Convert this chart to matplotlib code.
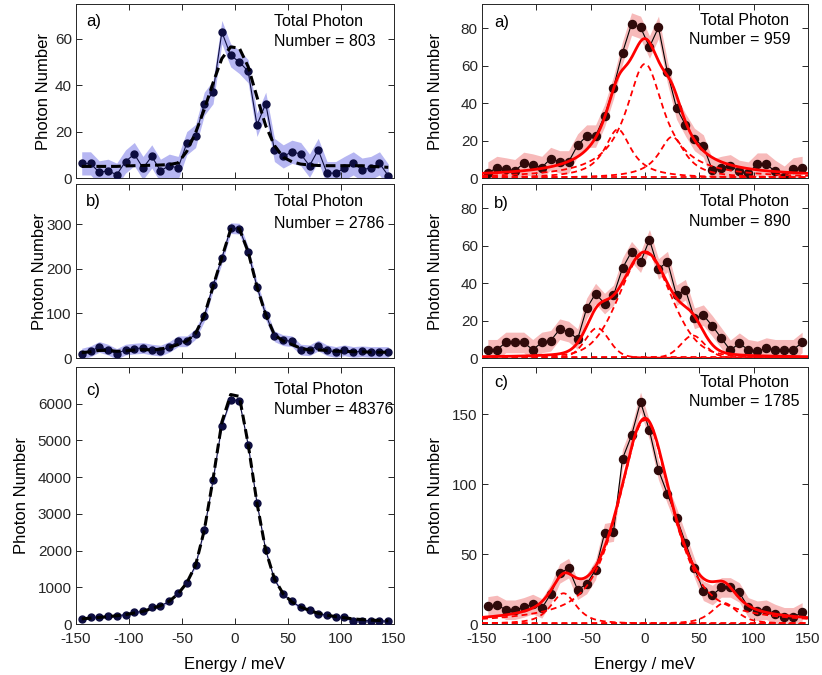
import numpy as np
import matplotlib
matplotlib.use("Agg")
import matplotlib.pyplot as plt

plt.rcParams['font.family'] = ['Liberation Sans', 'DejaVu Sans']
plt.rcParams['text.color'] = '#262626'
plt.rcParams['axes.edgecolor'] = '#262626'
plt.rcParams['xtick.color'] = '#262626'
plt.rcParams['ytick.color'] = '#262626'
plt.rcParams['axes.unicode_minus'] = False

# energy bins (meV), shared by every panel
energy = [-144.6, -136.3, -128.1, -119.8, -111.6, -103.3, -95.0, -86.8, -78.5,
          -70.3, -62.0, -53.7, -45.5, -37.2, -29.0, -20.7, -12.4, -4.1,
          4.1, 12.4, 20.7, 29.0, 37.2, 45.5, 53.7, 62.0, 70.3, 78.5,
          86.8, 95.0, 103.3, 111.6, 119.8, 128.1, 136.3, 144.6]

# left column: counts and fitted profile at each bin
left_a_counts = [6.3, 6.3, 2.4, 3.1, 1.4, 7.1, 10.3, 4.3, 9.3, 3.1, 5.3, 4.3,
                 15.0, 18.1, 32.0, 37.0, 62.9, 52.9, 50.0, 46.0, 22.9, 32.0,
                 12.1, 9.3, 11.3, 10.3, 5.3, 12.1, 2.1, 2.1, 4.3, 6.3, 3.6,
                 4.3, 6.3, 1.0]
left_a_fit = [5.0, 5.0, 5.0, 5.0, 5.0, 5.2, 5.3, 5.4, 5.5, 5.6, 5.8, 6.5,
              11.5, 19.5, 29.5, 41.0, 51.5, 56.5, 56.0, 48.0, 35.0, 22.5,
              14.0, 9.0, 7.0, 6.0, 5.6, 5.4, 5.3, 5.3, 5.3, 5.3, 5.3, 5.0,
              4.8, 4.6]
left_b_counts = [9.8, 15.0, 24.8, 18.8, 9.0, 18.8, 21.0, 22.5, 18.8, 16.5,
                 24.8, 37.5, 37.5, 54.0, 93.8, 162.8, 223.5, 291.0, 290.0,
                 237.8, 159.8, 97.5, 48.8, 39.8, 37.5, 18.8, 17.3, 27.8, 17.3,
                 13.5, 17.3, 13.5, 15.0, 13.5, 13.5, 13.5]
left_b_fit = [12, 14, 17, 17, 15, 16, 18, 19, 18, 20, 24, 30, 38, 55, 95, 160,
              225, 288, 290, 238, 160, 97, 52, 38, 30, 22, 18, 18, 17, 15, 15,
              14, 14, 13, 13, 13]
left_c_counts = [135, 180, 180, 207, 225, 252, 315, 342, 450, 495, 613, 856,
                 1126, 1595, 2550, 3919, 5405, 6108, 6081, 4883, 3306, 2009,
                 1216, 811, 613, 450, 387, 270, 243, 180, 180, 90, 90, 90, 90,
                 72]
left_c_fit = [140, 160, 180, 200, 225, 255, 300, 345, 420, 500, 620, 820, 1120,
              1600, 2550, 3950, 5500, 6250, 6200, 4900, 3300, 2000, 1230, 820,
              600, 460, 370, 290, 240, 200, 170, 140, 120, 105, 95, 85]
left_err = [5, 12, 40]
left_totals = [803, 2786, 48376]

# right column: counts and fitted peak components
right_a_counts = [2.6, 5.6, 4.8, 3.9, 7.8, 6.9, 5.6, 10.4, 8.6, 8.6, 17.6, 22.4,
                  22.4, 33.3, 48.3, 67.0, 82.3, 80.5, 70.0, 80.5, 56.4, 37.4,
                  28.5, 20.6, 17.1, 4.2, 5.6, 6.5, 3.5, 2.6, 7.4, 7.4, 3.5, 0.4,
                  4.8, 5.6]
right_b_counts = [4.4, 4.4, 8.3, 8.3, 8.3, 4.4, 8.3, 9.2, 15.4, 14.1, 10.1, 26.5,
                  34.4, 29.1, 33.5, 48.0, 56.8, 51.2, 63.2, 47.6, 51.5, 33.5,
                  36.5, 21.2, 22.9, 17.1, 10.6, 4.1, 7.9, 4.4, 3.5, 5.3, 4.4,
                  4.4, 4.4, 8.3]
right_c_counts = [12.6, 13.6, 10.2, 10.2, 11.9, 14.3, 11.2, 21.4, 36.2, 40.0,
                  24.5, 28.6, 38.8, 65.0, 66.2, 118.3, 135.0, 159.0, 138.6,
                  110.2, 92.9, 76.2, 58.3, 40.0, 23.8, 20.7, 26.2, 26.2, 22.6,
                  11.9, 9.5, 10.2, 7.1, 4.8, 4.8, 8.3]
right_err = [6, 5.5, 7]
right_totals = [959, 890, 1785]

peak_centers = [[-25, 0, 25], [-44, 0, 44], [-75, 0, 73]]
peak_heights = [[26, 61, 22], [16, 56, 12], [22, 146, 15]]
peak_fwhm = [[30, 42, 30], [26, 56, 26], [28, 58, 28]]
peak_eta = [1.0, 0.2, 0.7]
background = [0.8, 0.3, 0.5]


def pseudo_voigt(x, height, center, fwhm, eta):
    u = (x - center) / fwhm
    g = np.exp(-4 * np.log(2) * u ** 2)
    lor = 1 / (1 + 4 * u ** 2)
    return height * (eta * lor + (1 - eta) * g)


fig = plt.figure(figsize=(8.22, 6.75), dpi=100)
W, H = 822, 675


def px_axes(x0, y0, x1, y1):
    return fig.add_axes([x0 / W, 1 - y1 / H, (x1 - x0) / W, (y1 - y0) / H])


rows = [(4, 178), (184, 358), (367, 624)]
left_axes = [px_axes(76, r0, 394, r1) for r0, r1 in rows]
right_axes = [px_axes(482, r0, 808, r1) for r0, r1 in rows]

left_counts = [left_a_counts, left_b_counts, left_c_counts]
left_fits = [left_a_fit, left_b_fit, left_c_fit]
right_counts = [right_a_counts, right_b_counts, right_c_counts]
letters = ['a)', 'b)', 'c)']

left_yticks = [[0, 20, 40, 60], [0, 100, 200, 300], list(range(0, 7000, 1000))]
left_ylim = [75, 390, 7000]
right_yticks = [[0, 20, 40, 60, 80], [0, 20, 40, 60, 80], [0, 50, 100, 150]]
right_ylim = [93, 93, 184]

# label placement in pixels from the axes top-left corner
left_ylabel_x = [44, 40, 21]
letter_dy_left = [17.7, 17.7, 23]
letter_dy_right = [18.5, 19.3, 15]
text_dy_left = [(17, 38), (17.7, 39), (22, 43)]
text_dy_right = [(16.7, 36), (18, 37.7), (15.7, 35)]

E = np.array(energy)
fine = np.linspace(-150, 150, 601)


def note(ax, s, dx, dy, size=11.5):
    ax.annotate(s, xy=(0, 1), xycoords='axes fraction', xytext=(dx, -dy),
                textcoords='offset pixels', ha='left', va='center',
                fontsize=size, color='black')


def style(ax, yticks, ymax, bottom, label_x, x0, w):
    ax.set_xlim(-150, 150)
    ax.set_ylim(0, ymax)
    ax.set_xticks([-150, -100, -50, 0, 50, 100, 150])
    ax.set_yticks(yticks)
    ax.tick_params(direction='in', top=True, right=True, length=4,
                   width=0.7, labelsize=11)
    ax.tick_params(axis='x', pad=6)
    ax.tick_params(axis='y', pad=3)
    for sp in ax.spines.values():
        sp.set_linewidth(0.7)
    ax.set_ylabel('Photon Number', fontsize=12)
    ax.yaxis.label.set_verticalalignment('center')
    ax.yaxis.set_label_coords((label_x - x0) / w, 0.5)
    if bottom:
        ax.set_xlabel('Energy / meV', fontsize=12)
        ax.xaxis.label.set_verticalalignment('center')
        ax.xaxis.set_label_coords(0.5, -41 / 257)
    else:
        ax.set_xticklabels([])


for i, ax in enumerate(left_axes):
    y = np.array(left_counts[i])
    ax.fill_between(E, y - left_err[i], y + left_err[i], color='#b6b6f2',
                    lw=0, zorder=1)
    ax.plot(E, y, '-', color='#0d0d40', lw=0.8, zorder=2)
    ax.plot(E, y, 'o', color='#0d0d40', ms=5, zorder=3)
    ax.plot(E, left_fits[i], '--', color='black', lw=2.2, dashes=(3.2, 1.6),
            zorder=4)
    style(ax, left_yticks[i], left_ylim[i], i == 2, left_ylabel_x[i], 76, 318)
    note(ax, letters[i], 10, letter_dy_left[i], 12)
    note(ax, 'Total Photon', 198, text_dy_left[i][0])
    note(ax, 'Number = %d' % left_totals[i], 198, text_dy_left[i][1])

for i, ax in enumerate(right_axes):
    y = np.array(right_counts[i])
    ax.fill_between(E, y - right_err[i], y + right_err[i], color='#f7baba',
                    lw=0, zorder=1)
    ax.plot(E, y, '-', color='black', lw=0.8, zorder=2)
    ax.plot(E, y, 'o', color='#300a0a', ms=5.8, zorder=3)
    total = np.full_like(fine, background[i])
    for c, h, f in zip(peak_centers[i], peak_heights[i], peak_fwhm[i]):
        comp = pseudo_voigt(fine, h, c, f, peak_eta[i])
        total += comp
        ax.plot(fine, comp, '--', color='red', lw=1.3, dashes=(3.3, 2.2),
                zorder=4)
    ax.plot(fine, np.full_like(fine, background[i]), '--', color='red',
            lw=1.3, dashes=(3.3, 2.2), zorder=4)
    ax.plot(fine, total, '-', color='red', lw=2.0, zorder=5)
    style(ax, right_yticks[i], right_ylim[i], i == 2, 436, 482, 326)
    note(ax, letters[i], 12, letter_dy_right[i], 12)
    note(ax, 'Total Photon', 218, text_dy_right[i][0])
    note(ax, 'Number = %d' % right_totals[i], 207, text_dy_right[i][1])

fig.savefig('out.png', dpi=100)
